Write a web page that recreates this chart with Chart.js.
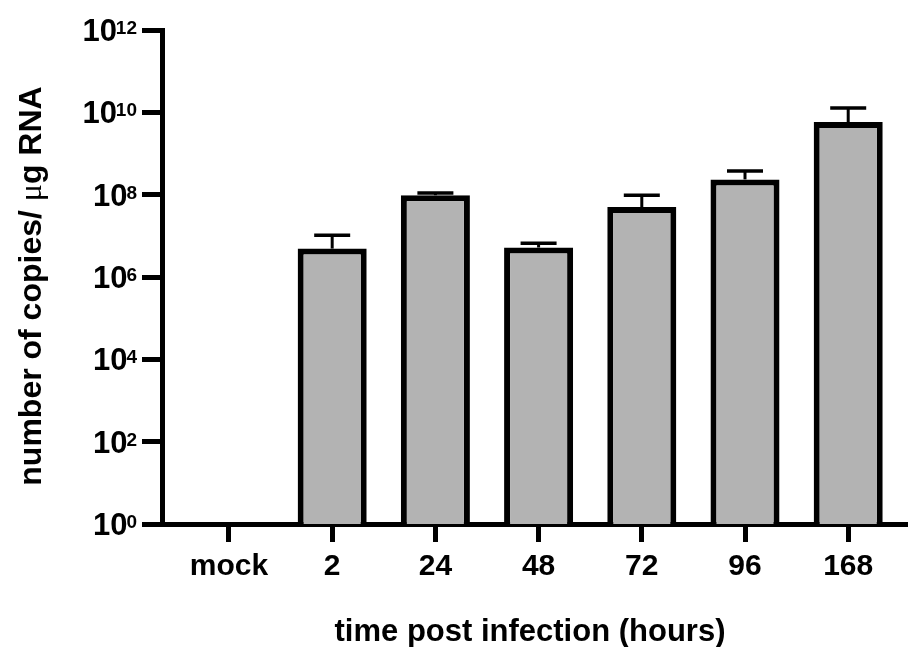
<!DOCTYPE html>
<html lang="en">
<head>
  <meta charset="UTF-8" />
  <title>copies per ug RNA</title>
  <script src="https://cdn.jsdelivr.net/npm/chart.js"></script>
  <style>
    body {
      margin: 0;
      background: #ffffff;
    }
    #chart {
      display: block;
    }
  </style>
</head>
<body>
  <canvas id="chart" width="908" height="647"></canvas>

  <script>
    // data (mean and upper error, copies / ug RNA)
    const categories = ['mock', '2', '24', '48', '72', '96', '168'];
    const means      = [null, 4.9e6, 9.7e7, 5.2e6, 5.0e7, 2.35e8, 5.8e9];
    const errorHigh  = [null, 1.03e7, 1.1e8, 6.6e6, 9.7e7, 3.77e8, 1.27e10];
    const yTickExps  = [0, 2, 4, 6, 8, 10, 12];

    const FONT = "'Liberation Sans', Arial, Helvetica, sans-serif";

    // error bars (upper only), drawn from the scales
    const errorBars = {
      id: 'errorBars',
      afterDatasetsDraw(chart) {
        const ctx = chart.ctx;
        const xs = chart.scales.x, ys = chart.scales.y;
        ctx.save();
        ctx.strokeStyle = '#000';
        ctx.lineCap = 'butt';
        errorHigh.forEach((hi, i) => {
          if (hi == null || means[i] == null) return;
          const x = xs.getPixelForValue(i);
          const y0 = ys.getPixelForValue(means[i]);
          const y1 = ys.getPixelForValue(hi);
          ctx.lineWidth = 3;
          ctx.beginPath();
          ctx.moveTo(x, y0);
          ctx.lineTo(x, y1);
          ctx.stroke();
          ctx.lineWidth = 3.5;
          ctx.beginPath();
          ctx.moveTo(x - 18, y1);
          ctx.lineTo(x + 18, y1);
          ctx.stroke();
        });
        ctx.restore();
      }
    };

    // 10^n labels with superscripts + axis titles
    const axisText = {
      id: 'axisText',
      afterDraw(chart) {
        const ctx = chart.ctx;
        const ys = chart.scales.y;
        ctx.save();
        ctx.fillStyle = '#000';
        ctx.textBaseline = 'alphabetic';

        const right = 137;
        yTickExps.forEach(e => {
          const y = ys.getPixelForValue(Math.pow(10, e));
          ctx.font = 'bold 19px ' + FONT;
          const sup = String(e);
          const supW = ctx.measureText(sup).width;
          ctx.textAlign = 'right';
          ctx.fillText(sup, right, y + 4);
          ctx.font = 'bold 31px ' + FONT;
          ctx.fillText('10', right - supW + 1, y + 11);
        });

        // x title
        ctx.font = 'bold 31px ' + FONT;
        ctx.textAlign = 'center';
        ctx.fillText('time post infection (hours)', 530, 641);

        // y title, mixed fonts for the mu
        const parts = [
          ['number of copies/ ', 'bold 32px ' + FONT],
          ['\u03bc', '32px \'Liberation Serif\', serif'],
          ['g RNA', 'bold 32px ' + FONT]
        ];
        let total = 0;
        parts.forEach(p => { ctx.font = p[1]; total += ctx.measureText(p[0]).width; });
        ctx.translate(41, 286);
        ctx.rotate(-Math.PI / 2);
        ctx.textAlign = 'left';
        let x = -total / 2;
        parts.forEach(p => {
          ctx.font = p[1];
          ctx.fillText(p[0], x, 0);
          x += ctx.measureText(p[0]).width;
        });
        ctx.restore();
      }
    };

    const ctx = document.getElementById('chart').getContext('2d');
    new Chart(ctx, {
      type: 'bar',
      data: {
        datasets: [{
          data: means.map((v, i) => ({ x: i, y: v })),
          backgroundColor: '#b3b3b3',
          borderColor: '#000000',
          borderWidth: 6,
          borderSkipped: 'start',
          categoryPercentage: 1,
          barPercentage: 0.669
        }]
      },
      options: {
        responsive: false,
        animation: false,
        devicePixelRatio: 1,
        layout: { padding: { top: 30, right: 2, left: 0, bottom: 0 } },
        plugins: {
          legend: { display: false },
          tooltip: { enabled: false }
        },
        scales: {
          x: {
            type: 'linear',
            offset: false,
            min: -0.649,
            max: 6.56,
            afterBuildTicks: s => { s.ticks = categories.map((c, i) => ({ value: i })); },
            afterFit: s => { s.height = 123; },
            ticks: {
              callback: v => categories[v],
              color: '#000',
              font: { family: FONT, size: 30, weight: 'bold' },
              padding: 7,
              maxRotation: 0,
              autoSkip: false
            },
            grid: {
              offset: false,
              drawOnChartArea: false,
              drawTicks: true,
              tickLength: 18,
              lineWidth: 5,
              color: '#000'
            },
            border: { display: true, color: '#000', width: 5 }
          },
          y: {
            type: 'logarithmic',
            min: 1,
            max: 1e12,
            afterBuildTicks: s => { s.ticks = yTickExps.map(e => ({ value: Math.pow(10, e) })); },
            afterFit: s => { s.width = 162; },
            ticks: { display: false },
            grid: {
              drawOnChartArea: false,
              drawTicks: true,
              tickLength: 20,
              lineWidth: 5,
              color: '#000'
            },
            border: { display: true, color: '#000', width: 5 }
          }
        }
      },
      plugins: [errorBars, axisText]
    });
  </script>
</body>
</html>
